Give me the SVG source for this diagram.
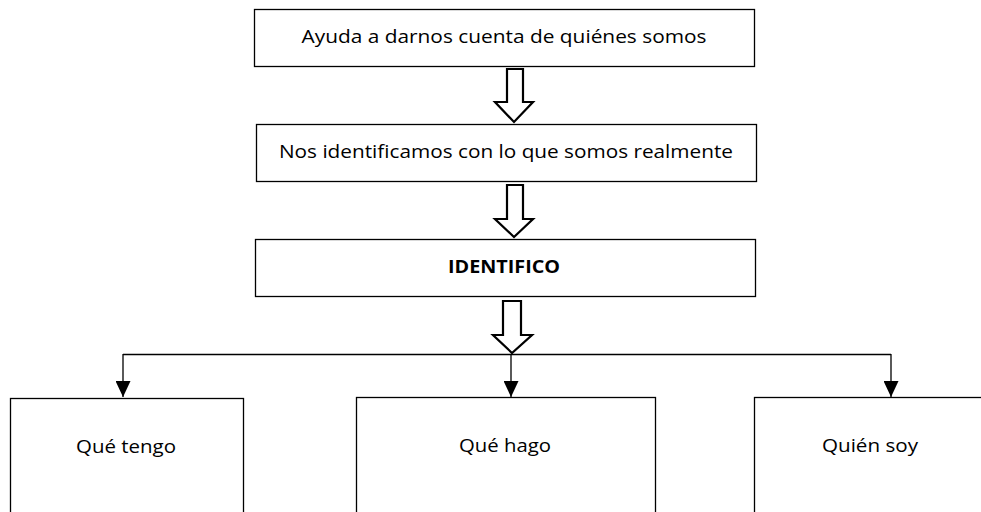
<svg xmlns="http://www.w3.org/2000/svg" width="981" height="512" viewBox="0 0 981 512">
  <style>
    .box { fill: #ffffff; stroke: #000000; stroke-width: 1.3; }
    .txt { font-family: "Open Sans", "Liberation Sans", sans-serif; font-size: 18.5px; fill: #000000; text-anchor: middle; }
    .bold { font-weight: bold; }
    .big { fill: #ffffff; stroke: #000000; stroke-width: 2.2; stroke-linejoin: miter; }
    .line { fill: none; stroke: #000000; stroke-width: 1.3; }
  </style>
  <defs>
    <marker id="tri" markerWidth="16" markerHeight="15" refX="16" refY="7.5" orient="auto" markerUnits="userSpaceOnUse" viewBox="0 0 16 15">
      <path d="M0,0 L16,7.5 L0,15 Z" fill="#000000"/>
    </marker>
  </defs>
  <rect width="981" height="512" fill="#ffffff"/>

  <g id="node-ayuda">
    <rect class="box" x="254.5" y="9.5" width="500" height="57"/>
    <text class="txt" x="504" y="43" textLength="405" lengthAdjust="spacingAndGlyphs">Ayuda a darnos cuenta de quiénes somos</text>
  </g>
  <g id="node-nos">
    <rect class="box" x="256.5" y="124.5" width="500" height="57"/>
    <text class="txt" x="506" y="158" textLength="454" lengthAdjust="spacingAndGlyphs">Nos identificamos con lo que somos realmente</text>
  </g>
  <g id="node-identifico">
    <rect class="box" x="255.5" y="239.5" width="500" height="57"/>
    <text class="txt bold" x="504" y="273" textLength="112" lengthAdjust="spacingAndGlyphs">IDENTIFICO</text>
  </g>
  <g id="node-tengo">
    <rect class="box" x="10.5" y="398.5" width="233" height="130"/>
    <text class="txt" x="126" y="453" textLength="100" lengthAdjust="spacingAndGlyphs">Qué tengo</text>
  </g>
  <g id="node-hago">
    <rect class="box" x="356.5" y="397.5" width="299" height="130"/>
    <text class="txt" x="505" y="452" textLength="92" lengthAdjust="spacingAndGlyphs">Qué hago</text>
  </g>
  <g id="node-soy">
    <rect class="box" x="754.5" y="397.5" width="240" height="130"/>
    <text class="txt" x="870" y="452" textLength="96" lengthAdjust="spacingAndGlyphs">Quién soy</text>
  </g>

  <g id="connectors">
    <path class="big" d="M507,69 L523,69 L523,102 L533,102 L514,122 L495,102 L507,102 Z"/>
    <path class="big" d="M507,185 L523,185 L523,219 L533,219 L514,237 L495,219 L507,219 Z"/>
    <path class="big" d="M503,301 L521,301 L521,335 L532,335 L512,353 L493,335 L503,335 Z"/>
    <path class="line" d="M123,354.5 L891,354.5"/>
    <path class="line" d="M123,354 L123,397" marker-end="url(#tri)"/>
    <path class="line" d="M511,354 L511,397" marker-end="url(#tri)"/>
    <path class="line" d="M891,354 L891,397" marker-end="url(#tri)"/>
  </g>
</svg>
